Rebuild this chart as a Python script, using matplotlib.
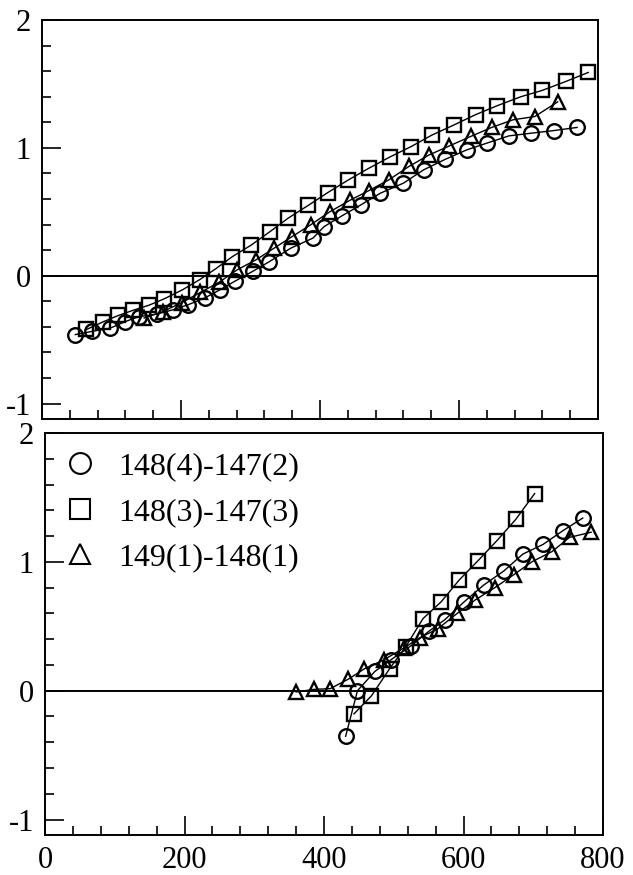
import matplotlib

matplotlib.use("Agg")

import matplotlib.pyplot as plt
from matplotlib.lines import Line2D
from matplotlib.ticker import MultipleLocator

plt.rcParams["font.family"] = ["Liberation Serif", "DejaVu Serif"]
plt.rcParams["axes.unicode_minus"] = False

# upper panel
top_circle_x = [48, 72, 98, 119, 139, 165, 189, 210, 234, 256, 277, 303, 327, 358,
                390, 406, 432, 459, 487, 520, 549, 580, 611, 640, 672, 704, 736, 770]
top_circle_y = [-0.46, -0.435, -0.41, -0.36, -0.32, -0.30, -0.265, -0.227, -0.174,
                -0.11, -0.044, 0.034, 0.11, 0.216, 0.295, 0.385, 0.47, 0.555, 0.646,
                0.724, 0.828, 0.91, 0.984, 1.037, 1.094, 1.115, 1.135, 1.16]
top_square_x = [64, 88, 110, 131, 154, 176, 202, 227, 250, 274, 301, 328, 354, 383,
                411, 441, 470, 501, 531, 561, 593, 624, 655, 689, 720, 754, 786]
top_square_y = [-0.42, -0.36, -0.31, -0.27, -0.23, -0.18, -0.11, -0.03, 0.055, 0.15,
                0.24, 0.345, 0.45, 0.55, 0.65, 0.75, 0.84, 0.93, 1.01, 1.10, 1.18,
                1.26, 1.33, 1.40, 1.45, 1.52, 1.59]
top_tri_x = [147, 174, 201, 228, 255, 281, 308, 334, 360, 387, 414, 443, 470, 499,
             528, 557, 586, 617, 647, 678, 709, 742]
top_tri_y = [-0.33, -0.28, -0.21, -0.13, -0.05, 0.047, 0.125, 0.216, 0.307, 0.40,
             0.50, 0.59, 0.665, 0.75, 0.855, 0.945, 1.015, 1.09, 1.16, 1.22, 1.245,
             1.36]

# lower panel
bot_circle_x = [431, 448, 473, 496, 525, 550, 573, 601, 629, 658, 685, 714, 742, 771]
bot_circle_y = [-0.354, 0.0, 0.15, 0.24, 0.35, 0.46, 0.55, 0.69, 0.82, 0.93, 1.06,
                1.135, 1.24, 1.34]
bot_square_x = [443, 468, 494, 517, 542, 568, 594, 621, 648, 675, 702]
bot_square_y = [-0.18, -0.04, 0.17, 0.34, 0.56, 0.69, 0.86, 1.01, 1.165, 1.33, 1.53]
bot_tri_x = [360, 385, 409, 435, 458, 486, 514, 537, 563, 591, 617, 645, 672, 698,
             727, 752, 783]
bot_tri_y = [-0.01, 0.01, 0.016, 0.09, 0.17, 0.24, 0.33, 0.41, 0.48, 0.60, 0.705,
             0.80, 0.90, 1.0, 1.08, 1.19, 1.23]

labels = ["148(4)-147(2)", "148(3)-147(3)", "149(1)-148(1)"]
markers = ["o", "s", "^"]

W, H = 633, 875
fig = plt.figure(figsize=(W / 100, H / 100), dpi=100)
ax_top = fig.add_axes([42 / W, 1 - 419 / H, 556 / W, 399 / H])
ax_bot = fig.add_axes([45 / W, 1 - 835 / H, 558 / W, 402 / H])

style = dict(color="black", lw=1.0, mfc="none", mec="black", mew=1.7, ms=10.5)


def draw(ax, series):
    for (xs, ys), m in zip(series, markers):
        ax.plot(xs, ys, marker=m, **style)
    ax.axhline(0, color="black", lw=1.4, zorder=0.5)
    ax.set_xlim(0, 800)
    ax.set_ylim(-1.12, 2.0)
    ax.xaxis.set_major_locator(MultipleLocator(200))
    ax.xaxis.set_minor_locator(MultipleLocator(40))
    ax.yaxis.set_major_locator(MultipleLocator(1))
    ax.yaxis.set_minor_locator(MultipleLocator(0.2))
    ax.tick_params(which="both", direction="in", top=False, right=False,
                   width=1.2, labelsize=22, pad=8)
    ax.tick_params(which="major", length=14)
    ax.tick_params(which="minor", length=6.5)
    for sp in ax.spines.values():
        sp.set_linewidth(1.4)


draw(ax_top, [(top_circle_x, top_circle_y), (top_square_x, top_square_y),
              (top_tri_x, top_tri_y)])
ax_top.tick_params(labelbottom=False)

draw(ax_bot, [(bot_circle_x, bot_circle_y), (bot_square_x, bot_square_y),
              (bot_tri_x, bot_tri_y)])

handles = [Line2D([], [], ls="none", marker=m, mfc="none", mec="black", mew=1.5,
                  ms=15) for m in markers]
ax_bot.legend(handles, labels, loc="upper left", frameon=False, fontsize=23,
              handlelength=1.0, handletextpad=0.7, labelspacing=0.5,
              borderaxespad=0.2, bbox_to_anchor=(0.0, 1.0))

fig.savefig("out.png", dpi=100)
